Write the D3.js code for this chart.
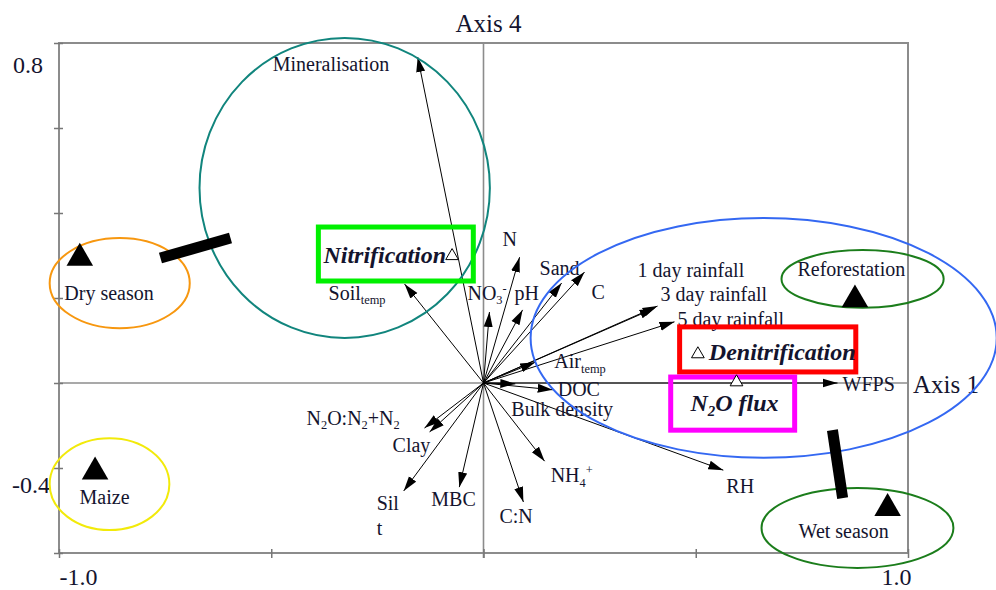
<!DOCTYPE html>
<html>
<head>
<meta charset="utf-8">
<script src="https://cdn.jsdelivr.net/npm/d3@7"></script>
<style>
  body { margin: 0; background: #fff; }
  text { font-family: "Liberation Serif", "Times New Roman", serif; fill: #14142e; }
</style>
</head>
<body>
<svg id="chart" width="996" height="590"></svg>
<script>
// environmental variables (biplot arrows): scores on axis 1 and axis 4
var variables = ["Mineralisation", "Soil_temp", "NO3-", "N", "pH", "Sand", "C",
  "1 day rainfall", "3 day rainfall", "5 day rainfall", "Air_temp", "WFPS", "DOC",
  "Bulk density", "RH", "NH4+", "C:N", "MBC", "Silt", "Clay", "N2O:N2+N2"];
var varAxis1 = [-0.155, -0.186, 0.014, 0.085, 0.092, 0.184, 0.238,
  0.403, 0.410, 0.450, 0.122, 0.834, 0.163,
  0.075, 0.565, 0.144, 0.094, -0.057, -0.188, -0.127, -0.139];
var varAxis4 = [0.767, 0.233, 0.167, 0.296, 0.172, 0.235, 0.261,
  0.176, 0.181, 0.144, 0.049, 0.000, -0.016,
  -0.002, -0.205, -0.184, -0.280, -0.245, -0.254, -0.115, -0.106];

// sites / treatments (filled triangles)
var sites = ["Dry season", "Maize", "Reforestation", "Wet season"];
var siteAxis1 = [-0.951, -0.915, 0.875, 0.952];
var siteAxis4 = [0.294, -0.209, 0.196, -0.295];

// processes (open triangles)
var processes = ["Nitrification", "Denitrification", "N2O flux"];
var procAxis1 = [-0.074, 0.505, 0.596];
var procAxis4 = [0.299, 0.068, 0.002];

// tick values
var xTicks = [-1.0, -0.5, 0, 0.5, 1.0];
var yTicks = [-0.4, -0.2, 0, 0.2, 0.4, 0.6, 0.8];

// --- layout (pixels) ---
var svg = d3.select("#chart");
var x = d3.scaleLinear().domain([-1, 1]).range([59, 908]);
var y = d3.scaleLinear().domain([-0.4, 0.8]).range([553, 43]);

// label offsets from arrow tip [dx, dy] (text start, baseline)
var varLabelOffset = {
  "Mineralisation": [-145, 14], "Soil_temp": [-76, 16], "NO3-": [-22, -12],
  "N": [-17, -11], "pH": [-8, -10], "Sand": [-22, -8], "C": [7, 27],
  "1 day rainfall": [-17, -31], "3 day rainfall": [3, -5], "5 day rainfall": [3, 4],
  "Air_temp": [19, 6], "WFPS": [5, 8], "DOC": [5, 6], "Bulk density": [-4, 32],
  "RH": [3, 23], "NH4+": [6, 21], "C:N": [-24, 21], "MBC": [-28, 19],
  "Silt": [-27, 19], "Clay": [-37, 20], "N2O:N2+N2": [-118, -3]
};
// rich label parts: [text, "n" | "sub" | "sup" | "br"]
var richLabels = {
  "Soil_temp": [["Soil", "n"], ["temp", "sub"]],
  "Air_temp": [["Air", "n"], ["temp", "sub"]],
  "NO3-": [["NO", "n"], ["3", "sub"], ["-", "sup"]],
  "NH4+": [["NH", "n"], ["4", "sub"], ["+", "sup"]],
  "N2O:N2+N2": [["N", "n"], ["2", "sub"], ["O:N", "n"], ["2", "sub"], ["+N", "n"], ["2", "sub"]],
  "Silt": [["Sil", "n"], ["t", "br"]],
  "N2O flux": [["N", "n"], ["2", "sub"], ["O flux", "n"]]
};

// ellipses in data units: [cx, cy, rx, ry, colour]
var ellipses = [
  [-0.327, 0.459, 0.342, 0.353, "#11857d"],
  [-0.857, 0.235, 0.165, 0.106, "#f7970f"],
  [-0.881, -0.238, 0.141, 0.108, "#f2ea0a"],
  [0.660, 0.106, 0.549, 0.282, "#3468f2"],
  [0.893, 0.245, 0.191, 0.068, "#1b7d1b"],
  [0.881, -0.341, 0.226, 0.094, "#1b7d1b"]
];
// highlight boxes in data units: [x0, y0, x1, y1, colour]
var boxes = [
  [-0.389, 0.367, -0.024, 0.240, "#00f000"],
  [0.462, 0.132, 0.877, 0.026, "#ff0000"],
  [0.441, 0.014, 0.733, -0.111, "#ff00ff"]
];
// thick connector bars: [x0, y0, x1, y1]
var bars = [
  [-0.761, 0.294, -0.596, 0.341],
  [0.822, -0.111, 0.846, -0.271]
];

function richText(sel, key, size) {
  var parts = richLabels[key];
  if (!parts) { sel.text(key); return; }
  var x0 = +sel.attr("x"), shift = 0;
  parts.forEach(function(p) {
    var t = sel.append("tspan").text(p[0]);
    var target = 0;
    if (p[1] === "sub") { t.attr("font-size", size * 0.62); target = size * 0.22; }
    else if (p[1] === "sup") { t.attr("font-size", size * 0.62); target = -size * 0.4; }
    if (p[1] === "br") { t.attr("x", x0).attr("dy", size * 1.25 - shift); shift = 0; return; }
    t.attr("dy", target - shift);
    shift = target;
  });
}

// frame
svg.append("rect")
  .attr("x", x(-1)).attr("y", y(0.8))
  .attr("width", x(1) - x(-1)).attr("height", y(-0.4) - y(0.8))
  .attr("fill", "none").attr("stroke", "#8c8c8c").attr("stroke-width", 2);

// zero lines
svg.append("line").attr("x1", x(-1)).attr("x2", x(1)).attr("y1", y(0)).attr("y2", y(0))
  .attr("stroke", "#8c8c8c").attr("stroke-width", 1.6);
svg.append("line").attr("x1", x(0)).attr("x2", x(0)).attr("y1", y(0.8)).attr("y2", y(-0.4) + 5)
  .attr("stroke", "#8c8c8c").attr("stroke-width", 1.6);

// axes (crossing tick marks, only extreme labels)
var gy = svg.append("g").attr("transform", "translate(" + x(-1) + ",0)")
  .call(d3.axisLeft(y).tickValues(yTicks).tickSizeInner(5).tickSizeOuter(0)
    .tickFormat(function(d) { return d === 0.8 ? "0.8" : d === -0.4 ? "-0.4" : ""; }));
gy.select(".domain").remove();
gy.selectAll(".tick line").attr("x1", 4).attr("stroke", "#777").attr("stroke-width", 1.5);
gy.selectAll(".tick text")
  .attr("font-family", null).attr("font-size", 24).attr("dy", null)
  .attr("x", function(d) { return d === 0.8 ? -16 : -9; })
  .attr("y", function(d) { return d === 0.8 ? 29 : -61; });

var gx = svg.append("g").attr("transform", "translate(0," + y(-0.4) + ")")
  .call(d3.axisBottom(x).tickValues(xTicks).tickSizeInner(5).tickSizeOuter(0)
    .tickFormat(function(d) { return d === -1 ? "-1.0" : d === 1 ? "1.0" : ""; }));
gx.select(".domain").remove();
gx.selectAll(".tick line").attr("y1", -4).attr("stroke", "#777").attr("stroke-width", 1.5);
gx.selectAll(".tick text")
  .attr("font-family", null).attr("font-size", 24).attr("dy", null).attr("y", 32)
  .attr("text-anchor", function(d) { return d < 0 ? "start" : "end"; })
  .attr("x", function(d) { return d < 0 ? 0 : 3; });

// axis titles
svg.append("text").attr("x", x(0) + 5).attr("y", 32).attr("text-anchor", "middle")
  .attr("font-size", 25).text("Axis 4");
svg.append("text").attr("x", x(1) + 5).attr("y", y(0) + 10)
  .attr("font-size", 25).text("Axis 1");

// arrowhead marker
svg.append("defs").append("marker")
  .attr("id", "head").attr("markerUnits", "userSpaceOnUse")
  .attr("viewBox", "0 -5 15 10").attr("refX", 15).attr("refY", 0)
  .attr("markerWidth", 15).attr("markerHeight", 10).attr("orient", "auto")
  .append("path").attr("d", "M0,-4.5L15,0L0,4.5Z").attr("fill", "#000");

// variable arrows
var vars = variables.map(function(v, i) { return { name: v, a1: varAxis1[i], a4: varAxis4[i] }; });
svg.append("g").selectAll("line").data(vars).join("line")
  .attr("x1", x(0)).attr("y1", y(0))
  .attr("x2", function(d) { return x(d.a1); })
  .attr("y2", function(d) { return y(d.a4); })
  .attr("stroke", "#000").attr("stroke-width", 1)
  .attr("marker-end", "url(#head)");

svg.append("g").selectAll("text").data(vars).join("text")
  .attr("x", function(d) { return x(d.a1) + varLabelOffset[d.name][0]; })
  .attr("y", function(d) { return y(d.a4) + varLabelOffset[d.name][1]; })
  .attr("font-size", 20)
  .each(function(d) { richText(d3.select(this), d.name, 20); });

// ellipses
svg.append("g").selectAll("ellipse").data(ellipses).join("ellipse")
  .attr("cx", function(d) { return x(d[0]); })
  .attr("cy", function(d) { return y(d[1]); })
  .attr("rx", function(d) { return x(d[2]) - x(0); })
  .attr("ry", function(d) { return y(0) - y(d[3]); })
  .attr("fill", "none").attr("stroke", function(d) { return d[4]; }).attr("stroke-width", 2);

// boxes
svg.append("g").selectAll("rect").data(boxes).join("rect")
  .attr("x", function(d) { return x(d[0]); })
  .attr("y", function(d) { return y(d[1]); })
  .attr("width", function(d) { return x(d[2]) - x(d[0]); })
  .attr("height", function(d) { return y(d[3]) - y(d[1]); })
  .attr("fill", "none").attr("stroke", function(d) { return d[4]; }).attr("stroke-width", 5);

// bars
svg.append("g").selectAll("line").data(bars).join("line")
  .attr("x1", function(d) { return x(d[0]); }).attr("y1", function(d) { return y(d[1]); })
  .attr("x2", function(d) { return x(d[2]); }).attr("y2", function(d) { return y(d[3]); })
  .attr("stroke", "#000").attr("stroke-width", 11);

// sites
var siteLabelOffset = [[-15.5, 42], [-15.5, 32], [-57.5, -24], [-89, 30]];
var siteG = svg.append("g").selectAll("g").data(sites).join("g")
  .attr("transform", function(d, i) { return "translate(" + x(siteAxis1[i]) + "," + y(siteAxis4[i]) + ")"; });
siteG.append("path").attr("d", d3.symbol(d3.symbolTriangle, 305)).attr("fill", "#000");
siteG.append("text")
  .attr("x", function(d, i) { return siteLabelOffset[i][0]; })
  .attr("y", function(d, i) { return siteLabelOffset[i][1]; })
  .attr("font-size", 20).text(function(d) { return d; });

// processes
var procLabel = [["end", -6, 7], ["start", 11, 6], ["middle", -2, 29]];
var procG = svg.append("g").selectAll("g").data(processes).join("g")
  .attr("transform", function(d, i) { return "translate(" + x(procAxis1[i]) + "," + y(procAxis4[i]) + ")"; });
procG.append("path").attr("d", d3.symbol(d3.symbolTriangle, 70))
  .attr("fill", "#fff").attr("stroke", "#000").attr("stroke-width", 1);
procG.append("text")
  .attr("text-anchor", function(d, i) { return procLabel[i][0]; })
  .attr("x", function(d, i) { return procLabel[i][1]; })
  .attr("y", function(d, i) { return procLabel[i][2]; })
  .attr("font-size", 24).attr("font-weight", "bold").attr("font-style", "italic")
  .each(function(d) { richText(d3.select(this), d, 24); });
</script>
</body>
</html>
